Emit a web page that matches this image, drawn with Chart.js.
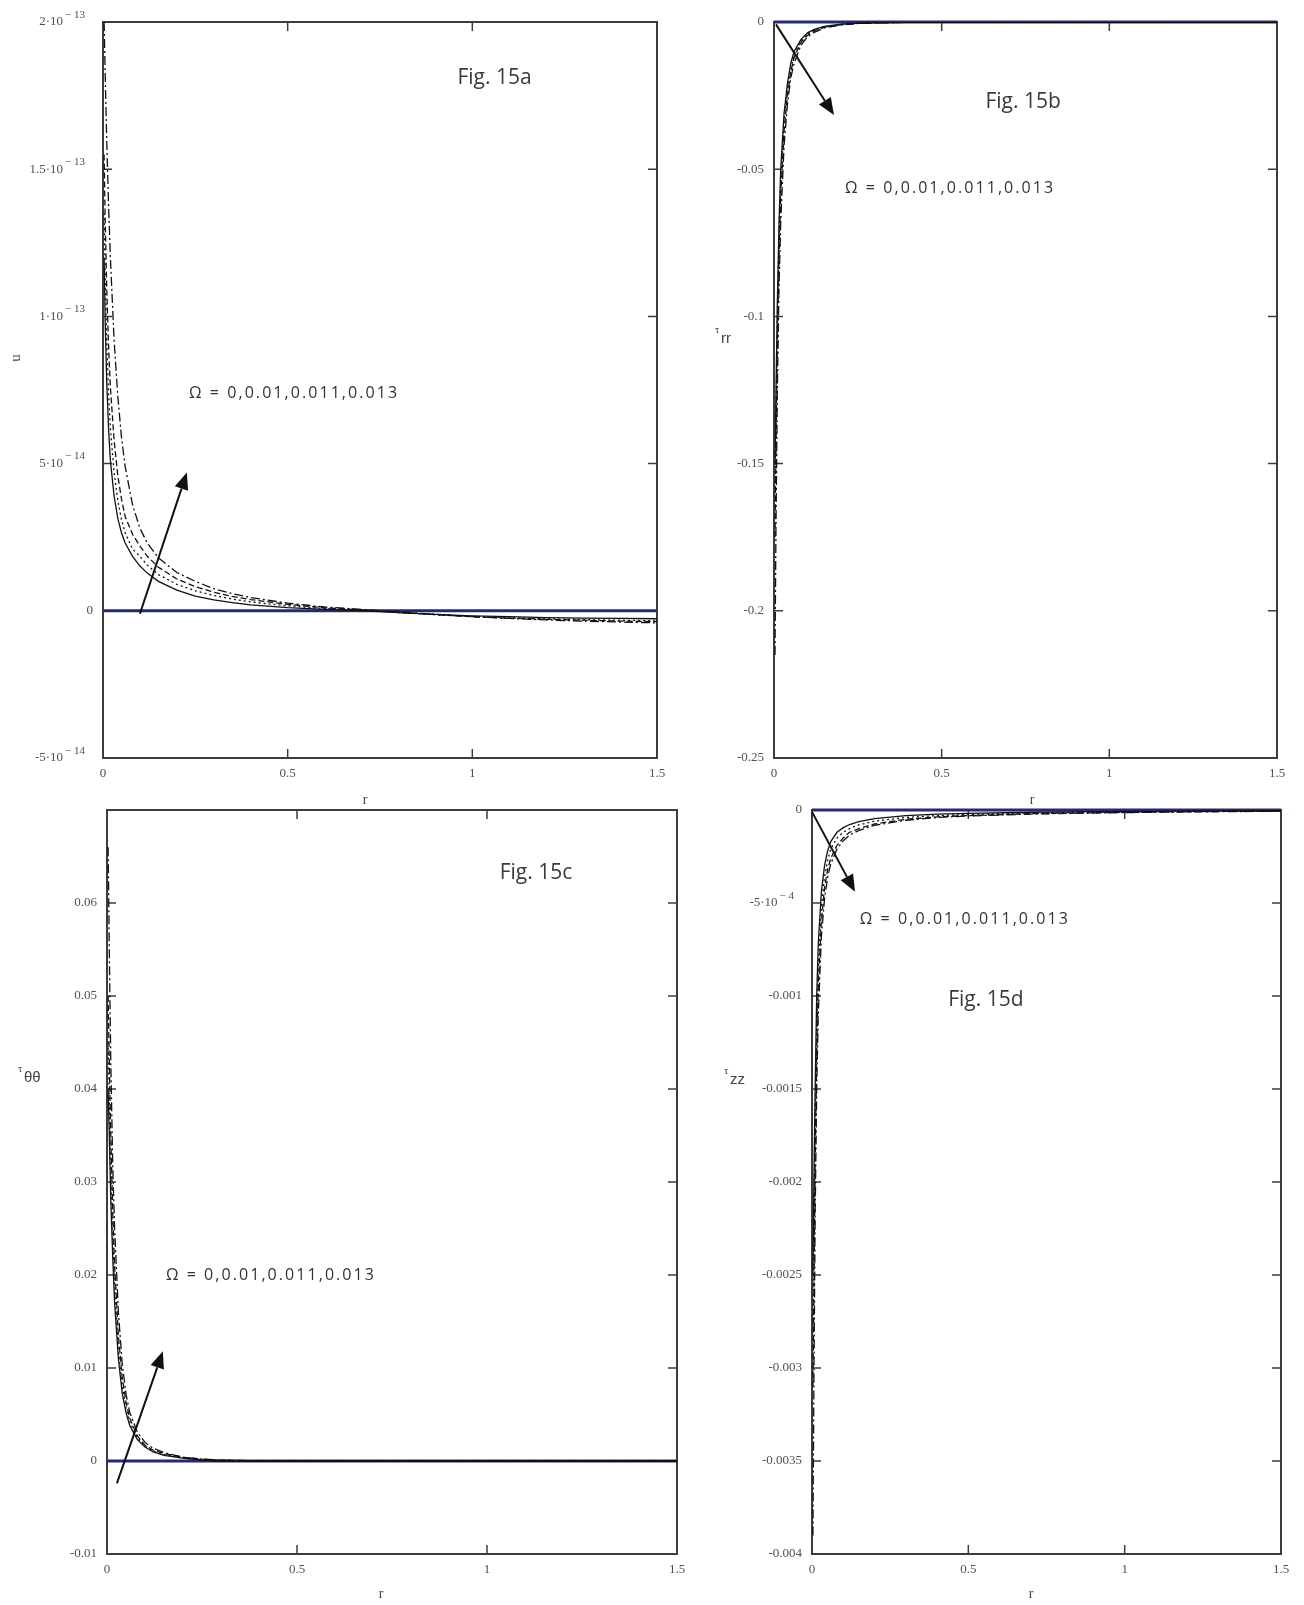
<!DOCTYPE html>
<html>
<head>
<meta charset="utf-8">
<script src="https://cdn.jsdelivr.net/npm/chart.js@4.4.0/dist/chart.umd.min.js"></script>
<style>
  html, body { margin: 0; padding: 0; background: #fff; }
  #page { position: relative; width: 1304px; height: 1605px; overflow: hidden; }
  canvas { position: absolute; }
</style>
</head>
<body>
<div id="page">
  <canvas id="figA" width="690" height="810" style="left:0;top:0"></canvas>
  <canvas id="figB" width="614" height="810" style="left:690px;top:0"></canvas>
  <canvas id="figC" width="700" height="815" style="left:0;top:790px"></canvas>
  <canvas id="figD" width="604" height="815" style="left:700px;top:790px"></canvas>
</div>
<script>
// x axis, shared by all four plots
const xTicks = [0, 0.5, 1, 1.5];
const xLabels = ['0', '0.5', '1', '1.5'];
const zeroR = [0, 1.5];
const zeroVals = [0, 0];

// Fig. 15a : u
const rA = [0.003, 0.006, 0.01, 0.015, 0.02, 0.03, 0.04, 0.05, 0.06, 0.08, 0.1, 0.12, 0.15, 0.2, 0.25, 0.3, 0.35, 0.4, 0.5, 0.6, 0.7, 0.8, 0.9, 1.0, 1.1, 1.2, 1.3, 1.4, 1.5];
const uOm0 = [12.0e-14, 9.8e-14, 7.8e-14, 6.2e-14, 5.1e-14, 3.9e-14, 3.15e-14, 2.65e-14, 2.3e-14, 1.85e-14, 1.52e-14, 1.28e-14, 1.0e-14, 0.7e-14, 0.5e-14, 0.37e-14, 0.28e-14, 0.2e-14, 0.11e-14, 0.05e-14, 0.01e-14, -0.06e-14, -0.12e-14, -0.17e-14, -0.2e-14, -0.23e-14, -0.25e-14, -0.26e-14, -0.27e-14];
const uOm1 = [13.5e-14, 11.3e-14, 9.2e-14, 7.4e-14, 6.2e-14, 4.7e-14, 3.75e-14, 3.1e-14, 2.65e-14, 2.1e-14, 1.85e-14, 1.55e-14, 1.23e-14, 0.9e-14, 0.68e-14, 0.52e-14, 0.4e-14, 0.3e-14, 0.17e-14, 0.08e-14, 0.02e-14, -0.06e-14, -0.13e-14, -0.19e-14, -0.24e-14, -0.27e-14, -0.3e-14, -0.32e-14, -0.34e-14];
const uOm2 = [15.5e-14, 13.2e-14, 11.0e-14, 9.0e-14, 7.6e-14, 5.8e-14, 4.6e-14, 3.8e-14, 3.2e-14, 2.6e-14, 2.2e-14, 1.85e-14, 1.48e-14, 1.08e-14, 0.82e-14, 0.63e-14, 0.49e-14, 0.38e-14, 0.22e-14, 0.1e-14, 0.03e-14, -0.05e-14, -0.13e-14, -0.2e-14, -0.25e-14, -0.29e-14, -0.32e-14, -0.35e-14, -0.37e-14];
const uOm3 = [20.0e-14, 18.2e-14, 16.0e-14, 13.8e-14, 12.0e-14, 9.2e-14, 7.3e-14, 5.9e-14, 4.9e-14, 3.6e-14, 2.8e-14, 2.3e-14, 1.8e-14, 1.3e-14, 1.0e-14, 0.75e-14, 0.58e-14, 0.45e-14, 0.26e-14, 0.13e-14, 0.05e-14, -0.04e-14, -0.12e-14, -0.2e-14, -0.26e-14, -0.31e-14, -0.35e-14, -0.38e-14, -0.41e-14];
const uTicks = [-5e-14, 0, 5e-14, 1e-13, 1.5e-13, 2e-13];
const uLabels = ['-5·10^-14', '0', '5·10^-14', '1·10^-13', '1.5·10^-13', '2·10^-13'];

// Fig. 15b : tau_rr
const rB = [0.003, 0.006, 0.01, 0.015, 0.02, 0.03, 0.04, 0.05, 0.06, 0.08, 0.1, 0.12, 0.15, 0.2, 0.25, 0.3, 0.4, 0.5, 0.7, 1.0, 1.5];
const trrOm0 = [-0.15, -0.125, -0.095, -0.068, -0.05, -0.031, -0.021, -0.014, -0.01, -0.006, -0.0037, -0.0025, -0.0015, -0.0007, -0.0004, -0.0002, -0.0001, 0, 0, 0, 0];
const trrOm1 = [-0.16, -0.135, -0.1, -0.073, -0.055, -0.034, -0.023, -0.016, -0.011, -0.0065, -0.004, -0.0028, -0.0017, -0.0008, -0.0004, -0.0002, -0.0001, 0, 0, 0, 0];
const trrOm2 = [-0.175, -0.145, -0.11, -0.08, -0.06, -0.037, -0.025, -0.017, -0.012, -0.007, -0.0045, -0.003, -0.0018, -0.0009, -0.0005, -0.0003, -0.0001, 0, 0, 0, 0];
const trrOm3 = [-0.215, -0.17, -0.125, -0.09, -0.068, -0.042, -0.028, -0.019, -0.014, -0.008, -0.005, -0.0035, -0.002, -0.001, -0.0005, -0.0003, -0.0001, 0, 0, 0, 0];
const trrTicks = [-0.25, -0.2, -0.15, -0.1, -0.05, 0];
const trrLabels = ['-0.25', '-0.2', '-0.15', '-0.1', '-0.05', '0'];

// Fig. 15c : tau_thetatheta
const rC = [0.003, 0.006, 0.01, 0.015, 0.02, 0.03, 0.04, 0.05, 0.06, 0.08, 0.1, 0.12, 0.15, 0.2, 0.25, 0.3, 0.4, 0.6, 1.0, 1.5];
const tttOm0 = [0.04, 0.035, 0.028, 0.022, 0.017, 0.011, 0.0073, 0.0052, 0.0038, 0.0023, 0.0015, 0.001, 0.0006, 0.0003, 0.0001, 0, 0, 0, 0, 0];
const tttOm1 = [0.045, 0.039, 0.031, 0.024, 0.019, 0.012, 0.0081, 0.0057, 0.0042, 0.0025, 0.0016, 0.0011, 0.0007, 0.0003, 0.0001, 0, 0, 0, 0, 0];
const tttOm2 = [0.05, 0.043, 0.035, 0.027, 0.021, 0.0135, 0.009, 0.0063, 0.0046, 0.0027, 0.0017, 0.0012, 0.0008, 0.0004, 0.0002, 0.0001, 0, 0, 0, 0];
const tttOm3 = [0.066, 0.055, 0.043, 0.032, 0.025, 0.016, 0.0105, 0.0072, 0.0052, 0.0031, 0.002, 0.0014, 0.0009, 0.0004, 0.0002, 0.0001, 0, 0, 0, 0];
const tttTicks = [-0.01, 0, 0.01, 0.02, 0.03, 0.04, 0.05, 0.06, 0.07];
const tttLabels = ['-0.01', '0', '0.01', '0.02', '0.03', '0.04', '0.05', '0.06', ''];

// Fig. 15d : tau_zz
const rD = [0.003, 0.006, 0.01, 0.015, 0.02, 0.03, 0.04, 0.05, 0.06, 0.08, 0.1, 0.12, 0.15, 0.2, 0.3, 0.4, 0.5, 0.7, 0.9, 1.1, 1.3, 1.5];
const tzzOm0 = [-0.0025, -0.002, -0.0015, -0.001, -0.00072, -0.00044, -0.0003, -0.00022, -0.00017, -0.00012, -0.000095, -0.000078, -0.000062, -0.000046, -0.00003, -0.000022, -0.000018, -0.000012, -0.000009, -0.000007, -0.000005, -0.000004];
const tzzOm1 = [-0.0028, -0.0023, -0.0017, -0.0012, -0.00085, -0.00052, -0.00036, -0.00027, -0.00021, -0.00015, -0.00012, -0.0001, -0.00008, -0.00006, -0.00004, -0.00003, -0.000024, -0.000016, -0.000012, -0.000009, -0.000007, -0.000005];
const tzzOm2 = [-0.0031, -0.0026, -0.0019, -0.0013, -0.00095, -0.0006, -0.00042, -0.00032, -0.00026, -0.00019, -0.00015, -0.00012, -0.0001, -0.000075, -0.00005, -0.000037, -0.00003, -0.00002, -0.000015, -0.000011, -0.000008, -0.000006];
const tzzOm3 = [-0.0039, -0.0031, -0.0022, -0.0015, -0.0011, -0.00068, -0.00048, -0.00036, -0.00029, -0.00021, -0.000165, -0.000135, -0.00011, -0.000082, -0.000055, -0.00004, -0.000032, -0.000022, -0.000016, -0.000012, -0.000009, -0.000007];
const tzzTicks = [-0.004, -0.0035, -0.003, -0.0025, -0.002, -0.0015, -0.001, -0.0005, 0];
const tzzLabels = ['-0.004', '-0.0035', '-0.003', '-0.0025', '-0.002', '-0.0015', '-0.001', '-5·10^-4', '0'];

const omegaText = 'Ω = 0,0.01,0.011,0.013';
const curveDash = [[], [2, 3], [6, 3], [9, 3, 2, 3]];
const tickFont = { family: 'Liberation Serif', size: 13 };
const tickColor = '#505050';

function toPoints(xs, ys) {
  return xs.map((x, i) => ({ x: x, y: ys[i] }));
}

function fitText(ctx, text, x, y, width) {
  ctx.letterSpacing = '0px';
  const w = ctx.measureText(text).width;
  const sp = (width - w) / (text.length - 1);
  ctx.letterSpacing = sp.toFixed(2) + 'px';
  ctx.fillText(text, x, y);
  ctx.letterSpacing = '0px';
}

function arrow(ctx, x0, y0, x1, y1) {
  const ang = Math.atan2(y1 - y0, x1 - x0);
  const len = 17, half = 7;
  const bx = x1 - len * Math.cos(ang), by = y1 - len * Math.sin(ang);
  ctx.strokeStyle = '#111';
  ctx.fillStyle = '#111';
  ctx.lineWidth = 2;
  ctx.beginPath();
  ctx.moveTo(x0, y0);
  ctx.lineTo(bx, by);
  ctx.stroke();
  ctx.beginPath();
  ctx.moveTo(x1, y1);
  ctx.lineTo(bx + half * Math.sin(ang), by - half * Math.cos(ang));
  ctx.lineTo(bx - half * Math.sin(ang), by + half * Math.cos(ang));
  ctx.closePath();
  ctx.fill();
}

// Mathcad style box with inward ticks, plus the hand-placed labels
const mathcadBox = {
  id: 'mathcad',
  beforeDatasetsDraw(chart) {
    const { ctx, chartArea: a, scales: { x, y } } = chart;
    ctx.save();
    ctx.strokeStyle = '#3c3c3c';
    ctx.lineWidth = 2;
    ctx.strokeRect(a.left, a.top, a.width, a.height);
    ctx.lineWidth = 1.5;
    ctx.beginPath();
    const t = 9;
    x.ticks.forEach(tk => {
      if (tk.value <= x.min || tk.value >= x.max) return;
      const px = x.getPixelForValue(tk.value);
      ctx.moveTo(px, a.bottom); ctx.lineTo(px, a.bottom - t);
      ctx.moveTo(px, a.top); ctx.lineTo(px, a.top + t);
    });
    y.ticks.forEach(tk => {
      if (tk.value <= y.min || tk.value >= y.max) return;
      const py = y.getPixelForValue(tk.value);
      ctx.moveTo(a.left, py); ctx.lineTo(a.left + t, py);
      ctx.moveTo(a.right, py); ctx.lineTo(a.right - t, py);
    });
    ctx.stroke();
    ctx.restore();
  },
  afterDraw(chart, args, o) {
    const { ctx, chartArea: a, scales: { x, y } } = chart;
    ctx.save();
    // y labels with a power of ten: mantissa plus raised exponent
    ctx.fillStyle = tickColor;
    ctx.textBaseline = 'middle';
    ctx.textAlign = 'right';
    o.yTicks.forEach((v, i) => {
      const lab = o.yLabels[i];
      if (!lab.includes('^')) return;
      const [base, pow] = lab.split('^');
      const py = y.getPixelForValue(v);
      const right = a.left - 18;
      const powText = pow.replace('-', '− ');
      ctx.font = '11px "Liberation Serif"';
      ctx.fillText(powText, right, py - 7);
      const pw = ctx.measureText(powText).width;
      ctx.font = '13px "Liberation Serif"';
      ctx.fillText(base, right - pw - 2, py);
    });
    // arrow
    arrow(ctx, x.getPixelForValue(o.arrow[0]), y.getPixelForValue(o.arrow[1]),
               x.getPixelForValue(o.arrow[2]), y.getPixelForValue(o.arrow[3]));
    // Omega text
    ctx.fillStyle = '#333';
    ctx.font = '16px "Open Sans"';
    ctx.textAlign = 'left';
    ctx.textBaseline = 'middle';
    fitText(ctx, omegaText, x.getPixelForValue(o.omega[0]), y.getPixelForValue(o.omega[1]), 208);
    // figure tag
    ctx.font = '21px "Open Sans"';
    ctx.fillStyle = '#3a3a3a';
    ctx.textAlign = 'center';
    ctx.fillText(o.fig, x.getPixelForValue(o.figAt[0]), y.getPixelForValue(o.figAt[1]));
    // x title
    ctx.font = '14px "Liberation Serif"';
    ctx.fillStyle = '#444';
    ctx.fillText('r', o.xTitle[0], o.xTitle[1]);
    // y title
    if (o.yName === 'u') {
      ctx.translate(o.yTitle[0], o.yTitle[1]);
      ctx.rotate(-Math.PI / 2);
      ctx.font = '15px "Liberation Serif"';
      ctx.fillText('u', 0, 0);
    } else {
      ctx.textAlign = 'left';
      ctx.textBaseline = 'alphabetic';
      ctx.font = '11px "Liberation Serif"';
      ctx.fillText('τ', o.yTitle[0], o.yTitle[1]);
      ctx.font = '15px "Liberation Sans"';
      ctx.fillText(o.yName, o.yTitle[0] + 6, o.yTitle[1] + 10);
    }
    ctx.restore();
  }
};

function makePanel(id, p) {
  const datasets = p.series.map((vals, i) => ({
    data: toPoints(p.r, vals),
    borderColor: '#111',
    borderWidth: 1.3,
    borderDash: curveDash[i],
    pointRadius: 0,
    fill: false
  }));
  datasets.push({
    data: toPoints(zeroR, zeroVals),
    borderColor: '#25297a',
    borderWidth: 3,
    pointRadius: 0,
    clip: 6
  });
  p.notes.yTicks = p.yTicks;
  p.notes.yLabels = p.yLabels;
  new Chart(document.getElementById(id), {
    type: 'line',
    data: { datasets: datasets },
    options: {
      responsive: false,
      animation: false,
      layout: { padding: p.pad },
      plugins: {
        legend: { display: false },
        tooltip: { enabled: false },
        mathcad: p.notes
      },
      scales: {
        x: {
          type: 'linear',
          min: 0, max: 1.5,
          afterBuildTicks: s => { s.ticks = xTicks.map(v => ({ value: v })); },
          afterFit: s => { s.height = p.xHeight; },
          grid: { display: false, drawTicks: false },
          border: { display: false },
          ticks: {
            autoSkip: false, maxRotation: 0, padding: 8,
            font: tickFont, color: tickColor,
            callback: v => xLabels[xTicks.indexOf(v)]
          }
        },
        y: {
          type: 'linear',
          min: p.yTicks[0], max: p.yTicks[p.yTicks.length - 1],
          afterBuildTicks: s => { s.ticks = p.yTicks.map(v => ({ value: v })); },
          afterFit: s => { s.width = p.yWidth; },
          grid: { display: false, drawTicks: false },
          border: { display: false },
          ticks: {
            autoSkip: false, padding: 10,
            font: tickFont, color: tickColor,
            callback: v => {
              const lab = p.yLabels[p.yTicks.indexOf(v)];
              return lab.includes('^') ? '' : lab;
            }
          }
        }
      }
    },
    plugins: [mathcadBox]
  });
}

makePanel('figA', {
  r: rA, series: [uOm0, uOm1, uOm2, uOm3],
  yTicks: uTicks, yLabels: uLabels,
  pad: { top: 22, right: 33, left: 0, bottom: 0 }, yWidth: 103, xHeight: 52,
  notes: {
    arrow: [0.1, -0.1e-14, 0.227, 4.7e-14],
    omega: [0.233, 7.38e-14],
    fig: 'Fig. 15a', figAt: [1.06, 1.81e-13],
    xTitle: [365, 800], yName: 'u', yTitle: [16, 358]
  }
});

makePanel('figB', {
  r: rB, series: [trrOm0, trrOm1, trrOm2, trrOm3],
  yTicks: trrTicks, yLabels: trrLabels,
  pad: { top: 22, right: 27, left: 0, bottom: 0 }, yWidth: 84, xHeight: 52,
  notes: {
    arrow: [0.006, -0.0008, 0.179, -0.0316],
    omega: [0.212, -0.0564],
    fig: 'Fig. 15b', figAt: [0.743, -0.0272],
    xTitle: [342, 800], yName: 'rr', yTitle: [25, 333]
  }
});

makePanel('figC', {
  r: rC, series: [tttOm0, tttOm1, tttOm2, tttOm3],
  yTicks: tttTicks, yLabels: tttLabels,
  pad: { top: 20, right: 23, left: 0, bottom: 0 }, yWidth: 107, xHeight: 51,
  notes: {
    arrow: [0.026, -0.0024, 0.147, 0.0118],
    omega: [0.155, 0.02],
    fig: 'Fig. 15c', figAt: [1.129, 0.0632],
    xTitle: [381, 804], yName: 'θθ', yTitle: [18, 282]
  }
});

makePanel('figD', {
  r: rD, series: [tzzOm0, tzzOm1, tzzOm2, tzzOm3],
  yTicks: tzzTicks, yLabels: tzzLabels,
  pad: { top: 20, right: 23, left: 0, bottom: 0 }, yWidth: 112, xHeight: 51,
  notes: {
    arrow: [0.0, -0.00001, 0.1375, -0.00044],
    omega: [0.153, -0.00059],
    fig: 'Fig. 15d', figAt: [0.556, -0.00102],
    xTitle: [331, 804], yName: 'zz', yTitle: [24, 284]
  }
});
</script>
</body>
</html>
